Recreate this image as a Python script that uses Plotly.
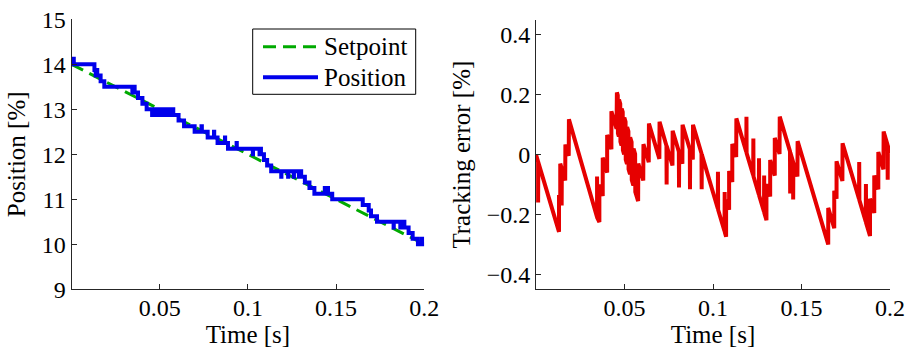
import plotly.graph_objects as go

# ---- data -------------------------------------------------------------
# Setpoint ramp (time [s], position [%])
setpoint_t = [0.0, 0.2]
setpoint_v = [14.0, 10.0]

# Measured position: time of each level change and the level held after it [%]
pos_t = [0.0000, 0.0012, 0.0013, 0.0130, 0.0137, 0.0145, 0.0146, 0.0165, 0.0186,
         0.0345, 0.0346, 0.0358, 0.0377, 0.0402, 0.0426, 0.0457, 0.0462, 0.0468,
         0.0476, 0.0483, 0.0490, 0.0498, 0.0506, 0.0514, 0.0522, 0.0531, 0.0540,
         0.0550, 0.0560, 0.0577, 0.0607, 0.0638, 0.0698, 0.0737, 0.0739, 0.0772,
         0.0808, 0.0809, 0.0828, 0.0870, 0.0871, 0.0887, 0.0936, 0.0937, 0.1028,
         0.1029, 0.1066, 0.1067, 0.1074, 0.1091, 0.1109, 0.1132, 0.1189, 0.1190,
         0.1228, 0.1229, 0.1260, 0.1261, 0.1289, 0.1290, 0.1302, 0.1323, 0.1349,
         0.1377, 0.1436, 0.1437, 0.1453, 0.1454, 0.1478, 0.1651, 0.1685, 0.1698,
         0.1732, 0.1826, 0.1827, 0.1864, 0.1865, 0.1887, 0.1911, 0.1934, 0.1964,
         0.1987, 0.1988, 0.2000]
pos_v = [14.000, 14.125, 14.000, 13.875, 13.750, 13.875, 13.750, 13.625, 13.500,
         13.375, 13.500, 13.375, 13.250, 13.125, 13.000, 12.875, 13.000, 12.875,
         13.000, 12.875, 13.000, 12.875, 13.000, 12.875, 13.000, 12.875, 13.000,
         12.875, 13.000, 12.875, 12.750, 12.625, 12.500, 12.625, 12.500, 12.375,
         12.500, 12.375, 12.250, 12.375, 12.250, 12.125, 12.250, 12.125, 12.000,
         12.125, 12.000, 12.125, 12.000, 11.875, 11.750, 11.625, 11.500, 11.625,
         11.500, 11.625, 11.500, 11.625, 11.500, 11.625, 11.500, 11.375, 11.250,
         11.125, 11.250, 11.125, 11.250, 11.125, 11.000, 10.875, 10.750, 10.625,
         10.500, 10.375, 10.500, 10.375, 10.500, 10.375, 10.250, 10.125, 10.000,
         10.125, 10.000, 10.000]

# Tracking error vertices (time [s], error [%])
err_t = [0.0000, 0.0012, 0.0012, 0.0013, 0.0130, 0.0130, 0.0137, 0.0137, 0.0145,
         0.0145, 0.0146, 0.0165, 0.0166, 0.0185, 0.0186,
         0.0345, 0.0345, 0.0346, 0.0358, 0.0358, 0.0377, 0.0377, 0.0402, 0.0402,
         0.0426, 0.0426, 0.0455, 0.0457,
         0.0462, 0.0463, 0.0468, 0.0469, 0.0476, 0.0477, 0.0483, 0.0484, 0.0490,
         0.0491, 0.0498, 0.0499, 0.0506, 0.0507, 0.0514, 0.0515, 0.0522, 0.0523,
         0.0531, 0.0532, 0.0540, 0.0541, 0.0550, 0.0551, 0.0560, 0.0561, 0.0577,
         0.0578, 0.0606, 0.0607, 0.0637, 0.0638,
         0.0697, 0.0698, 0.0737, 0.0738, 0.0739, 0.0771, 0.0772,
         0.0807, 0.0808, 0.0809, 0.0827, 0.0828,
         0.0869, 0.0870, 0.0871, 0.0886, 0.0887,
         0.0935, 0.0936, 0.0937, 0.1027, 0.1028, 0.1029, 0.1065, 0.1066, 0.1067,
         0.1074, 0.1074, 0.1091, 0.1091, 0.1109, 0.1109, 0.1131, 0.1132,
         0.1188, 0.1189, 0.1190, 0.1227, 0.1228, 0.1229, 0.1259, 0.1260, 0.1261,
         0.1288, 0.1289, 0.1290, 0.1302, 0.1302, 0.1323, 0.1323, 0.1349, 0.1349,
         0.1376, 0.1377,
         0.1435, 0.1436, 0.1437, 0.1452, 0.1453, 0.1454, 0.1477, 0.1478,
         0.1651, 0.1651, 0.1685, 0.1685, 0.1698, 0.1698, 0.1731, 0.1732,
         0.1825, 0.1826, 0.1827, 0.1863, 0.1864, 0.1865, 0.1887, 0.1887,
         0.1911, 0.1911, 0.1934, 0.1934, 0.1963, 0.1964,
         0.1986, 0.1987, 0.1988, 0.2000]
err_v = [0.000, -0.024, -0.160, -0.026, -0.258, -0.135, -0.149, -0.030, -0.046,
         -0.170, -0.048, -0.086, 0.034, -0.004, 0.118,
         -0.209, -0.073, -0.211, -0.225, -0.100, -0.138, -0.010, -0.060, 0.066,
         0.018, 0.145, 0.087, 0.208,
         0.198, 0.071, 0.061, 0.184, 0.170, 0.043, 0.031, 0.154, 0.142,
         0.015, 0.001, 0.124, 0.110, -0.017, -0.031, 0.092, 0.078, -0.049,
         -0.065, 0.058, 0.042, -0.085, -0.103, 0.020, 0.002, -0.125, -0.155,
         -0.030, -0.086, 0.035, -0.025, 0.104,
         -0.014, 0.110, 0.030, -0.100, 0.028, -0.036, 0.080,
         0.010, -0.110, 0.006, -0.030, 0.100,
         0.018, -0.116, 0.014, -0.016, 0.100,
         0.004, -0.116, 0.000, -0.180, -0.057, -0.184, -0.256, -0.125, -0.260,
         -0.274, -0.150, -0.184, -0.055, -0.091, 0.036, -0.008, 0.121,
         0.009, 0.127, 0.005, -0.069, 0.054, -0.073, -0.133, -0.012, -0.137,
         -0.191, -0.070, -0.195, -0.219, -0.098, -0.140, -0.018, -0.070, 0.056,
         0.002, 0.127,
         0.011, -0.130, 0.007, -0.023, -0.150, -0.027, -0.073, 0.045,
         -0.300, -0.178, -0.246, -0.121, -0.147, -0.022, -0.088, 0.038,
         -0.148, -0.025, -0.152, -0.224, -0.098, -0.228, -0.272, -0.147,
         -0.195, -0.070, -0.116, 0.009, -0.049, 0.077,
         0.033, -0.084, 0.029, 0.005]

time_ticks = [0.05, 0.1, 0.15, 0.2]
pos_ticks = [9, 10, 11, 12, 13, 14, 15]
err_ticks = [-0.4, -0.2, 0, 0.2, 0.4]

# ---- styling ----------------------------------------------------------
FONT = "'Liberation Serif', 'Times New Roman', serif"
AX = "#262626"
W, H = 910, 348

SP_STYLE = dict(color="rgb(0,170,0)", width=3, dash="13px,7px")
POS_STYLE = dict(color="rgb(0,0,235)", width=4)
ERR_STYLE = dict(color="rgb(230,0,0)", width=4)

fig = go.Figure()
fig.add_trace(go.Scatter(x=setpoint_t, y=setpoint_v, mode="lines", name="Setpoint",
                         line=SP_STYLE, xaxis="x", yaxis="y", showlegend=False))
fig.add_trace(go.Scatter(x=pos_t, y=pos_v, mode="lines", name="Position",
                         line_shape="hv", line=POS_STYLE, xaxis="x", yaxis="y",
                         showlegend=False))
fig.add_trace(go.Scatter(x=err_t, y=err_v, mode="lines", name="Tracking error",
                         line=ERR_STYLE, xaxis="x2", yaxis="y2", showlegend=False))

common = dict(
    showline=True, linecolor=AX, linewidth=1, mirror=False,
    ticks="inside", ticklen=5, tickcolor=AX, tickwidth=1,
    showgrid=False, zeroline=False, automargin=False,
    tickfont=dict(family=FONT, size=24, color="black"),
)
title_font = dict(family=FONT, size=25, color="black")

fig.update_layout(
    width=W, height=H,
    margin=dict(l=0, r=0, t=0, b=0),
    paper_bgcolor="white", plot_bgcolor="white",
    xaxis=dict(domain=[71.5 / W, 424.3 / W], range=[0, 0.2],
               tickvals=time_ticks, anchor="y", ticklabelstandoff=-3,
               title=dict(text="Time [s]", font=title_font, standoff=4),
               **common),
    yaxis=dict(domain=[(H - 289.3) / H, (H - 19.3) / H], range=[9, 15],
               tickvals=pos_ticks, anchor="x",
               title=dict(text="Position [%]", font=title_font, standoff=8),
               **common),
    xaxis2=dict(domain=[536 / W, 890 / W], range=[0, 0.2],
                tickvals=time_ticks, anchor="y2", ticklabelstandoff=-3,
                title=dict(text="Time [s]", font=title_font, standoff=4),
                **common),
    yaxis2=dict(domain=[(H - 289.3) / H, (H - 20) / H], range=[-0.45, 0.45],
                tickvals=err_ticks, anchor="x2",
                title=dict(text="Tracking error [%]", font=title_font, standoff=8),
                **common),
    showlegend=False,
)

# Legend box for the position panel (paper coordinates)
def px(x):
    return x / W


def py(y):
    return 1 - y / H


box = (252.7, 29.0, 415.7, 94.3)
fig.add_shape(type="rect", xref="paper", yref="paper",
              x0=px(box[0]), y0=py(box[3]), x1=px(box[2]), y1=py(box[1]),
              line=dict(color="black", width=1), fillcolor="white", layer="above")
entries = [("Setpoint", SP_STYLE, 46.7), ("Position", POS_STYLE, 77.3)]
for label, style, yc in entries:
    fig.add_shape(type="line", xref="paper", yref="paper",
                  x0=px(263), x1=px(318), y0=py(yc), y1=py(yc),
                  line=style, layer="above")
    fig.add_annotation(text=label, xref="paper", yref="paper",
                       x=px(322), y=py(yc), xanchor="left", yanchor="middle",
                       showarrow=False,
                       font=dict(family=FONT, size=25, color="black"))

fig.write_html("out.html")
